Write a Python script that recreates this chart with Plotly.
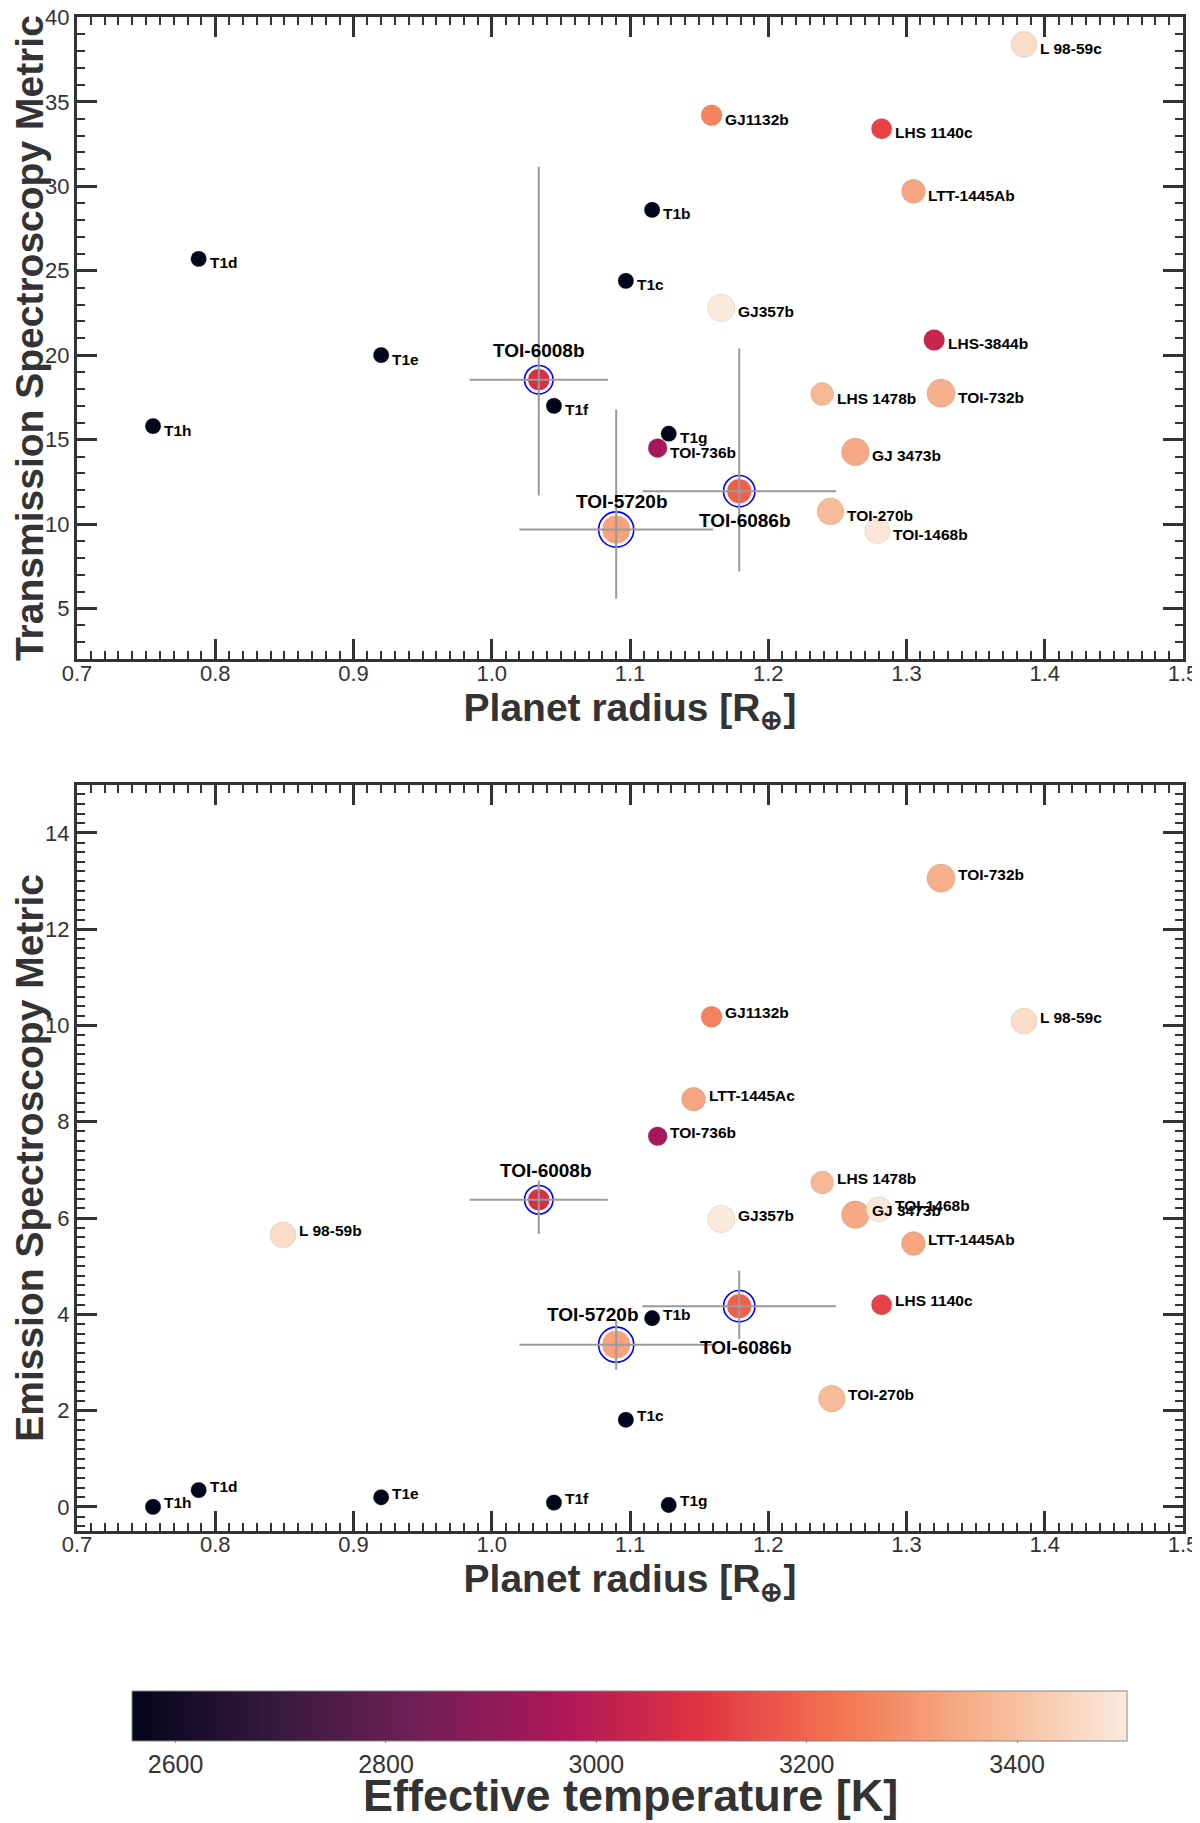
import plotly.graph_objects as go

# ---------------- data ----------------
# transmission spectroscopy metric panel (literature planets)
tsm_names = ['T1b', 'T1c', 'T1d', 'T1e', 'T1f', 'T1g', 'T1h',
             'L 98-59c', 'GJ1132b', 'LHS 1140c', 'LTT-1445Ab', 'GJ357b', 'LHS-3844b',
             'LHS 1478b', 'TOI-732b', 'TOI-736b', 'GJ 3473b', 'TOI-270b', 'TOI-1468b']
tsm_radius = [1.116, 1.097, 0.788, 0.920, 1.045, 1.128, 0.755,
              1.385, 1.159, 1.282, 1.305, 1.166, 1.320,
              1.239, 1.325, 1.120, 1.263, 1.245, 1.279]
tsm_value = [28.6, 24.4, 25.7, 20.0, 17.0, 15.35, 15.8,
             38.4, 34.2, 33.4, 29.7, 22.8, 20.9,
             17.7, 17.75, 14.5, 14.27, 10.75, 9.6]
tsm_teff = [2559, 2559, 2559, 2559, 2559, 2559, 2559,
            3470, 3261, 3131, 3340, 3505, 3036,
            3381, 3360, 2950, 3347, 3386, 3496]
tsm_rstar = [0.12, 0.12, 0.12, 0.12, 0.12, 0.12, 0.12,
             0.33, 0.23, 0.22, 0.29, 0.36, 0.23,
             0.27, 0.38, 0.19, 0.37, 0.35, 0.32]

# emission spectroscopy metric panel (literature planets)
esm_names = ['T1b', 'T1c', 'T1d', 'T1e', 'T1f', 'T1g', 'T1h',
             'TOI-732b', 'GJ1132b', 'L 98-59c', 'LTT-1445Ac', 'TOI-736b', 'LHS 1478b',
             'GJ 3473b', 'TOI-1468b', 'GJ357b', 'L 98-59b', 'LTT-1445Ab', 'LHS 1140c', 'TOI-270b']
esm_radius = [1.116, 1.097, 0.788, 0.920, 1.045, 1.128, 0.755,
              1.325, 1.159, 1.385, 1.146, 1.120, 1.239,
              1.263, 1.280, 1.166, 0.849, 1.305, 1.282, 1.246]
esm_value = [3.92, 1.81, 0.35, 0.20, 0.09, 0.04, 0.0,
             13.06, 10.18, 10.09, 8.47, 7.7, 6.74,
             6.07, 6.18, 5.98, 5.65, 5.47, 4.2, 2.25]
esm_teff = [2559, 2559, 2559, 2559, 2559, 2559, 2559,
            3360, 3261, 3470, 3340, 2950, 3381,
            3347, 3496, 3505, 3470, 3340, 3131, 3386]
esm_rstar = [0.12, 0.12, 0.12, 0.12, 0.12, 0.12, 0.12,
             0.38, 0.23, 0.33, 0.29, 0.19, 0.27,
             0.37, 0.32, 0.36, 0.33, 0.29, 0.22, 0.35]

# the three new planets (with error bars)
new_names = ['TOI-6008b', 'TOI-5720b', 'TOI-6086b']
new_radius = [1.034, 1.090, 1.179]
new_radius_err = [0.050, 0.070, 0.070]
new_tsm = [18.55, 9.68, 11.95]
new_tsm_up = [12.6, 7.1, 8.45]
new_tsm_dn = [6.85, 4.1, 4.75]
new_esm = [6.38, 3.37, 4.17]
new_esm_up = [0.40, 0.51, 0.74]
new_esm_dn = [0.71, 0.52, 0.68]
new_teff = [3075, 3330, 3190]
new_rstar = [0.26, 0.40, 0.32]

teff_range = [2559, 3505]

# seaborn "rocket"-like colour map
rocket = [[0.0, '#03051a'], [0.143, '#35193e'], [0.286, '#701f57'], [0.429, '#ad1759'],
          [0.571, '#e13342'], [0.714, '#f37651'], [0.857, '#f6b48f'], [1.0, '#faebdd']]


def msize(r):
    return [10 + 48 * v for v in r]


FONT = 'Liberation Sans'
DARK = '#333333'

fig = go.Figure()

panels = [
    ('x', 'y', tsm_names, tsm_radius, tsm_value, tsm_teff, tsm_rstar,
     new_tsm, new_tsm_up, new_tsm_dn, -4),
    ('x2', 'y2', esm_names, esm_radius, esm_value, esm_teff, esm_rstar,
     new_esm, new_esm_up, new_esm_dn, 4),
]

# label offsets (pixels) for the highlighted planets: (dx, dy) per panel
new_label_shift = {
    'y': [(0, 29), (6, 28), (6, -29)],
    'y2': [(7, 29), (-23, 30), (7, -41)],
}

annotations = []
for xa, ya, names, rad, val, teff, rstar, nv, nup, ndn, lab_dy in panels:
    sizes = msize(rstar)
    fig.add_trace(go.Scatter(
        x=rad, y=val, xaxis=xa, yaxis=ya, mode='markers',
        marker=dict(size=sizes, color=teff, coloraxis='coloraxis', opacity=1,
                    line=dict(width=0.5, color='rgba(120,120,120,0.35)')),
        text=names, hoverinfo='text', showlegend=False))
    nsizes = msize(new_rstar)
    fig.add_trace(go.Scatter(
        x=new_radius, y=nv, xaxis=xa, yaxis=ya, mode='markers',
        marker=dict(size=nsizes, color=new_teff, coloraxis='coloraxis', opacity=1,
                    line=dict(width=1, color='white')),
        text=new_names, hoverinfo='text', showlegend=False))
    fig.add_trace(go.Scatter(
        x=new_radius, y=nv, xaxis=xa, yaxis=ya, mode='markers',
        marker=dict(size=[s + 6 for s in nsizes], symbol='circle-open', opacity=1,
                    color='blue', line=dict(width=1.6, color='blue')),
        hoverinfo='skip', showlegend=False))
    fig.add_trace(go.Scatter(
        x=new_radius, y=nv, xaxis=xa, yaxis=ya, mode='markers',
        marker=dict(size=2, color='rgba(0,0,0,0)'),
        error_x=dict(type='data', array=new_radius_err, color='#9a9a9a', thickness=2, width=0),
        error_y=dict(type='data', symmetric=False, array=nup, arrayminus=ndn,
                     color='#9a9a9a', thickness=2, width=0),
        hoverinfo='skip', showlegend=False))

    for n, xv, yv, s in zip(names, rad, val, sizes):
        annotations.append(dict(
            x=xv, y=yv, xref=xa, yref=ya, text='<b>%s</b>' % n, showarrow=False,
            xanchor='left', yanchor='middle', xshift=s / 2 + 1, yshift=lab_dy,
            font=dict(family=FONT, size=15.5, color='black')))
    for (dx, dy), n, xv, yv in zip(new_label_shift[ya], new_names, new_radius, nv):
        annotations.append(dict(
            x=xv, y=yv, xref=xa, yref=ya, text='<b>%s</b>' % n, showarrow=False,
            xanchor='center', yanchor='middle', xshift=dx, yshift=dy,
            font=dict(family=FONT, size=19, color='black')))

# colour bar title, placed under the bar
annotations.append(dict(
    x=0.5, y=-0.1750, xref='paper', yref='paper', text='<b>Effective temperature [K]</b>',
    showarrow=False, xanchor='center', yanchor='middle',
    font=dict(family=FONT, size=45, color=DARK)))

axis_style = dict(showline=True, linecolor=DARK, linewidth=3, mirror='ticks',
                  ticks='inside', ticklen=20, tickwidth=2.5, tickcolor=DARK,
                  tickfont=dict(family=FONT, size=22, color=DARK),
                  ticklabeloverflow='allow', automargin=False,
                  showgrid=False, zeroline=False)
title_font = dict(family=FONT, size=39, color=DARK)
xtitle = '<b>Planet radius [R<sub>⊕</sub>]</b>'


def minor(d):
    return dict(ticks='inside', ticklen=8, tickwidth=1.5, tickcolor=DARK, dtick=d, showgrid=False)


# the page adds an 8 px body margin, so the figure is sized 8 px smaller
fig.update_layout(
    width=1192, height=1815,
    margin=dict(l=69, r=17, t=9, b=292),
    paper_bgcolor='white', plot_bgcolor='white',
    xaxis=dict(axis_style, range=[0.7, 1.5], tick0=0.7, dtick=0.1, tickformat='.1f',
               minor=minor(0.01), anchor='y', domain=[0, 1], ticklabelstandoff=-8,
               title=dict(text=xtitle, font=title_font, standoff=6)),
    yaxis=dict(axis_style, range=[2, 40.02], tick0=0, dtick=5, minor=minor(1),
               anchor='x', domain=[0.5758, 1.0],
               title=dict(text='<b>Transmission Spectroscopy Metric</b>', font=title_font, standoff=12)),
    xaxis2=dict(axis_style, range=[0.7, 1.5], tick0=0.7, dtick=0.1, tickformat='.1f',
                minor=minor(0.01), anchor='y2', domain=[0, 1], ticklabelstandoff=-8,
                title=dict(text=xtitle, font=title_font, standoff=6)),
    yaxis2=dict(axis_style, range=[-0.5, 15], tick0=0, dtick=2, minor=dict(minor(0.2), tick0=0),
                anchor='x2', domain=[0, 0.4929],
                title=dict(text='<b>Emission Spectroscopy Metric</b>', font=title_font, standoff=12)),
    coloraxis=dict(
        colorscale=rocket, cmin=teff_range[0], cmax=teff_range[1],
        colorbar=dict(
            orientation='h', x=0.5, xanchor='center', y=-0.1055, yanchor='top',
            len=995, lenmode='pixels', thickness=50, xpad=0, ypad=0,
            outlinewidth=1, outlinecolor='#888888',
            ticks='outside', ticklen=2, tickcolor='#888888',
            tick0=2600, dtick=200,
            tickfont=dict(family=FONT, size=25, color=DARK))),
    annotations=annotations,
)

fig.write_html('out.html')
